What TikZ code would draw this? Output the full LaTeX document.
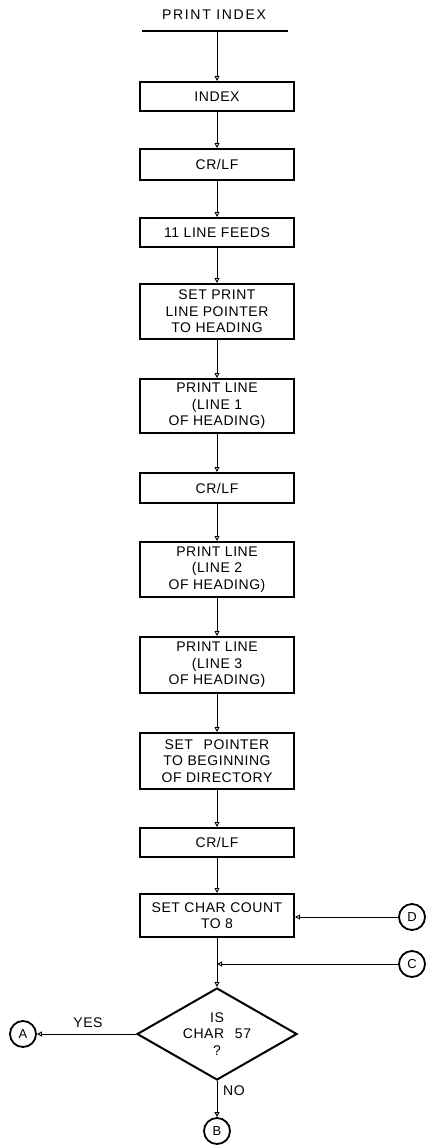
\documentclass[tikz,border=0pt]{standalone}
\usepackage{fontspec}
\setmainfont[LetterSpace=4]{Liberation Sans}
\usetikzlibrary{shapes.geometric,arrows.meta}
\begin{document}
\begin{tikzpicture}[x=1pt,y=-1pt,
  font=\fontsize{14}{16.5}\selectfont,
  box/.style={draw,line width=2pt,minimum width=154pt,inner sep=0pt,align=center},
  conn/.style={line width=0.9pt,-{Triangle[open,length=5pt,width=5pt]}},
  term/.style={draw,circle,line width=1.8pt,minimum size=26pt,inner sep=0pt,font=\fontsize{13}{13}\selectfont},
  lbl/.style={inner sep=0pt}]
\useasboundingbox (0,0) rectangle (426,1146);
% title
\node[lbl,font=\fontsize{14}{16.5}\selectfont\addfontfeature{LetterSpace=12}] (title) at (214,15) {PRINT INDEX};
\coordinate (ul) at (142,31);
\coordinate (ur) at (288,31);
\coordinate (top) at (217,31);
\draw[line width=1.4pt] (ul) -- (ur);
% boxes
\node[box,minimum height=29pt] (b1) at (217,96.5) {INDEX};
\node[box,minimum height=31pt] (b2) at (217,164.5) {CR/LF};
\node[box,minimum height=29pt] (b3) at (217,232.5) {11 LINE FEEDS};
\node[box,minimum height=55pt] (b4) at (217,311.5) {SET PRINT\\LINE POINTER\\TO HEADING};
\node[box,minimum height=54pt] (b5) at (217,406) {PRINT LINE\\(LINE 1\\OF HEADING)};
\node[box,minimum height=30pt] (b6) at (217,488) {CR/LF};
\node[box,minimum height=55pt] (b7) at (217,569.5) {PRINT LINE\\(LINE 2\\OF HEADING)};
\node[box,minimum height=56pt] (b8) at (217,665) {PRINT LINE\\(LINE 3\\OF HEADING)};
\node[box,minimum height=56pt] (b9) at (217,761) {SET\hspace{0.45em} POINTER\\TO BEGINNING\\OF DIRECTORY};
\node[box,minimum height=29pt] (b10) at (217,842.5) {CR/LF};
\node[box,minimum height=43pt] (b11) at (217,915.5) {SET CHAR COUNT\\TO 8};
% decision
\node[draw,diamond,aspect=1.739,line width=2pt,inner sep=0pt,minimum width=160pt,minimum height=92pt,align=center] (dec) at (217,1034) {IS\\CHAR\hspace{0.45em} 57\\?};
% connectors
\node[term] (A) at (23,1034) {A};
\node[term] (B) at (217,1131) {B};
\node[term] (C) at (412,964) {C};
\node[term] (D) at (412,917) {D};
\coordinate (cj) at (217,964);
\draw[conn] (top) -- (b1);
\draw[conn] (b1) -- (b2);
\draw[conn] (b2) -- (b3);
\draw[conn] (b3) -- (b4);
\draw[conn] (b4) -- (b5);
\draw[conn] (b5) -- (b6);
\draw[conn] (b6) -- (b7);
\draw[conn] (b7) -- (b8);
\draw[conn] (b8) -- (b9);
\draw[conn] (b9) -- (b10);
\draw[conn] (b10) -- (b11);
\draw[conn] (b11) -- (dec.north);
\draw[conn] (D) -- (D -| b11.east);
\draw[conn] (C) -- (cj);
\draw[conn] (dec.west) -- (A);
\draw[conn] (dec.south) -- (B);
\node[lbl] (yes) at (88,1023) {YES};
\node[lbl] (no) at (234,1091) {NO};
\end{tikzpicture}
\end{document}
